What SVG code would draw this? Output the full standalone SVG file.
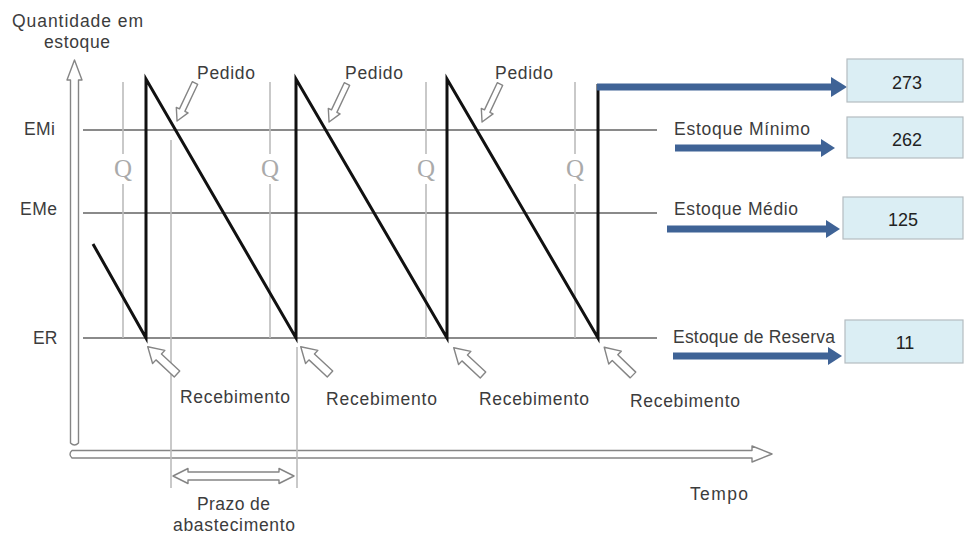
<svg xmlns="http://www.w3.org/2000/svg" xmlns:xlink="http://www.w3.org/1999/xlink" width="964" height="541" viewBox="0 0 964 541">
<style>
.t{font-family:"Liberation Sans",Arial,sans-serif;font-size:17.5px;fill:#3c3c3c}
.n{font-family:"Liberation Sans",Arial,sans-serif;font-size:18px;fill:#222;text-anchor:middle}
.q{font-family:"Liberation Serif","Times New Roman",serif;font-size:25px;fill:#aaa;text-anchor:middle}
.lvl{stroke:#8a8a8a;stroke-width:2;fill:none}
.vg{stroke:#bcbcbc;stroke-width:1.6;fill:none}
.hol{fill:#fff;stroke:#858585;stroke-width:1.4;stroke-linejoin:round}
.blue{stroke:#3f6396;stroke-width:7;fill:none}
.bh{fill:#3f6396}
.box{fill:#dbeef4;stroke:#b4bcc0;stroke-width:1.2}
</style>
<defs>
<path id="ped" d="M0,-3 H30 V-6.5 L42,0 L30,6.5 V3 H0 Z"/>
<path id="rec" d="M0,-4 H25 V-9 L40,0 L25,9 V4 H0 Z"/>
</defs>
<rect width="964" height="541" fill="#fff"/>

<g id="axes">
<path class="hol" d="M70.5,443 V80 H67 L74.5,60 L82,80 H78.5 V443 Q74.5,447 70.5,443 Z"/>
<path class="hol" d="M72,450.5 H752 V446 L772,454 L752,462 V458 H72 Q68,454 72,450.5 Z"/>
<text class="t" x="12" y="27" textLength="131">Quantidade em</text>
<text class="t" x="44" y="48" textLength="66">estoque</text>
<text class="t" x="690" y="500" textLength="58">Tempo</text>
</g>

<g id="levels">
<line class="lvl" x1="83" y1="130" x2="657" y2="130"/>
<line class="lvl" x1="83" y1="213" x2="657" y2="213"/>
<line class="lvl" x1="83" y1="338" x2="657" y2="338"/>
<text class="t" x="24" y="135" textLength="31">EMi</text>
<text class="t" x="20" y="215" textLength="37">EMe</text>
<text class="t" x="33" y="344">ER</text>
</g>

<g id="q-lines">
<path class="vg" d="M123,82 V154 M123,184 V338 M270,82 V154 M270,184 V338 M426,82 V154 M426,184 V338 M575,82 V154 M575,184 V338"/>
<text class="q" x="123" y="177">Q</text>
<text class="q" x="270" y="177">Q</text>
<text class="q" x="426" y="177">Q</text>
<text class="q" x="575" y="177">Q</text>
</g>

<g id="prazo">
<path class="vg" d="M171,140 V488 M297,347 V488"/>
<path class="hol" d="M173,476 L188,468.5 V472 H279 V468.5 L294,476 L279,483.5 V480 H188 V483.5 Z"/>
<text class="t" x="197" y="510" textLength="73">Prazo de</text>
<text class="t" x="173" y="531" textLength="122">abastecimento</text>
</g>

<g id="sawtooth">
<polyline points="93,244 146,338 146,79 296,338 296,79 447,338 447,79 598,338 598,84" fill="none" stroke="#111" stroke-width="3" stroke-linejoin="miter"/>
</g>

<g id="pedido">
<use xlink:href="#ped" href="#ped" class="hol" transform="translate(195,83) rotate(115.3)"/>
<use xlink:href="#ped" href="#ped" class="hol" transform="translate(347,84) rotate(115.3)"/>
<use xlink:href="#ped" href="#ped" class="hol" transform="translate(500,84) rotate(115.3)"/>
<text class="t" x="197" y="79" textLength="58">Pedido</text>
<text class="t" x="345" y="79" textLength="58">Pedido</text>
<text class="t" x="495" y="79" textLength="58">Pedido</text>
</g>

<g id="recebimento">
<use xlink:href="#rec" href="#rec" class="hol" transform="translate(177,374) rotate(223)"/>
<use xlink:href="#rec" href="#rec" class="hol" transform="translate(330,374) rotate(223)"/>
<use xlink:href="#rec" href="#rec" class="hol" transform="translate(483,375) rotate(223)"/>
<use xlink:href="#rec" href="#rec" class="hol" transform="translate(633,375) rotate(224)"/>
<text class="t" x="180" y="403" textLength="110">Recebimento</text>
<text class="t" x="326" y="405" textLength="111">Recebimento</text>
<text class="t" x="479" y="405" textLength="110">Recebimento</text>
<text class="t" x="630" y="407" textLength="110">Recebimento</text>
</g>

<g id="connectors">
<path class="blue" d="M597,87 H833"/>
<polygon class="bh" points="831,77 847,87 831,97"/>
<path class="blue" d="M675,148 H823"/>
<polygon class="bh" points="821,139 835,148 821,157"/>
<path class="blue" d="M667,229 H828"/>
<polygon class="bh" points="826,220 840,229 826,238"/>
<path class="blue" d="M673,356 H830"/>
<polygon class="bh" points="828,347 842,356 828,365"/>
</g>

<g id="labels-right">
<text class="t" x="674" y="135" textLength="136">Estoque Mínimo</text>
<text class="t" x="674" y="215" textLength="124">Estoque Médio</text>
<text class="t" x="673" y="343" textLength="162">Estoque de Reserva</text>
</g>

<g id="box-273"><rect class="box" x="847" y="59" width="116" height="43"/><text class="n" x="907" y="89">273</text></g>
<g id="box-262"><rect class="box" x="847" y="117" width="116" height="41"/><text class="n" x="907" y="146">262</text></g>
<g id="box-125"><rect class="box" x="843" y="197" width="120" height="42"/><text class="n" x="903" y="226">125</text></g>
<g id="box-11"><rect class="box" x="845" y="320" width="118" height="43"/><text class="n" x="905" y="349">11</text></g>
</svg>
